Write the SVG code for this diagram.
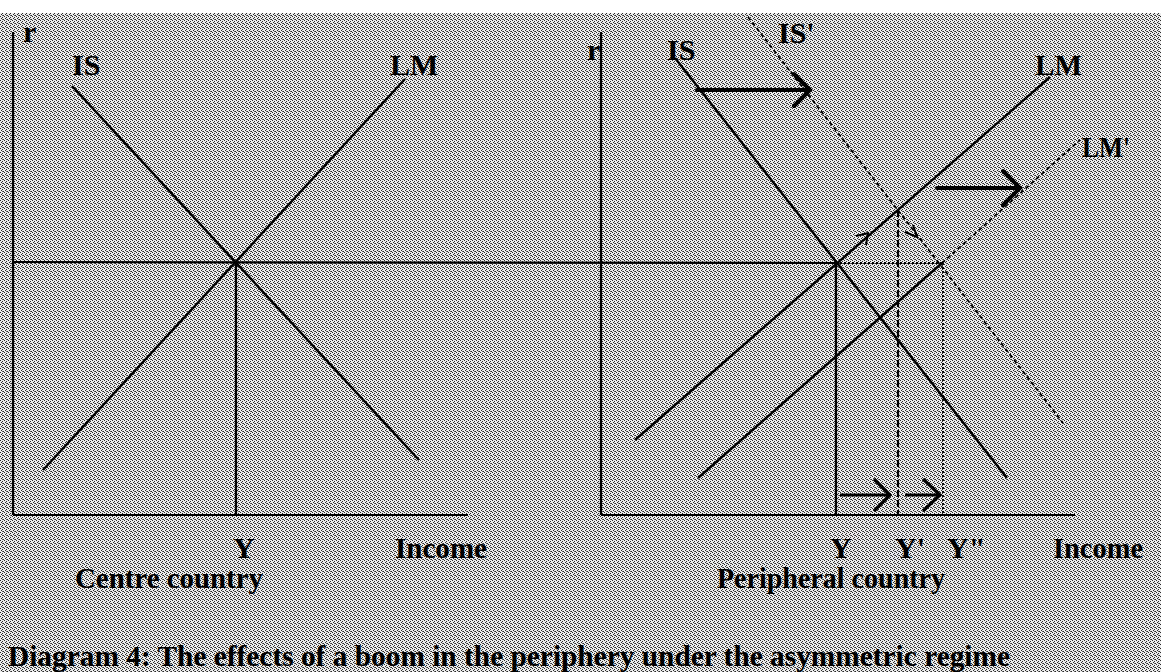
<svg xmlns="http://www.w3.org/2000/svg" width="1161" height="672" viewBox="0 0 1161 672">
<style>
text{font-family:"Liberation Serif","Times New Roman",serif;font-weight:bold;fill:#000;font-size:30px}
.ax{stroke:#000;stroke-width:2.2;fill:none}
.cv{stroke:#000;stroke-width:2.4;fill:none}
.ds{stroke:#000;stroke-width:1.8;fill:none;stroke-dasharray:4 3}
.dt{stroke:#000;stroke-width:1.8;fill:none;stroke-dasharray:2 2}
.dv{stroke:#000;stroke-width:2.2;fill:none;stroke-dasharray:7 3}
.ba{stroke:#000;stroke-width:4;fill:none;stroke-linecap:round;stroke-linejoin:miter}
.sa{stroke:#000;stroke-width:3.2;fill:none;stroke-linejoin:miter}
.ta{stroke:#000;stroke-width:2;fill:none}
</style>
<defs>
<pattern id="dith" patternUnits="userSpaceOnUse" width="4" height="4">
<rect width="4" height="4" fill="#ececec"/>
<rect x="0" y="0" width="1" height="1" fill="#2a2a2a"/>
<rect x="2" y="1" width="1" height="1" fill="#2a2a2a"/>
<rect x="1" y="2" width="1" height="1" fill="#2a2a2a"/>
<rect x="3" y="3" width="1" height="1" fill="#2a2a2a"/>
<rect x="2" y="3" width="1" height="1" fill="#666"/>
</pattern>
</defs>
<rect width="1161" height="672" fill="#fff"/>
<rect x="0" y="13" width="1161" height="659" fill="url(#dith)"/>

<g id="centre-panel">
<line class="ax" x1="13" y1="32" x2="13" y2="515"/>
<line class="ax" x1="13" y1="515" x2="468" y2="515"/>
<line class="cv" x1="72" y1="86" x2="419" y2="460"/>
<line class="cv" x1="43" y1="470" x2="405" y2="79"/>
<line class="ax" x1="236" y1="262" x2="236" y2="515"/>
<text x="23" y="42">r</text>
<text x="72" y="75">IS</text>
<text x="390" y="75">LM</text>
<text x="233" y="558">Y</text>
<text x="395" y="558" textLength="92" lengthAdjust="spacingAndGlyphs">Income</text>
<text x="75" y="588" textLength="188" lengthAdjust="spacingAndGlyphs">Centre country</text>
</g>

<g id="r-line">
<line class="ax" x1="13" y1="262" x2="836" y2="263"/>
<line class="dt" x1="836" y1="263" x2="943" y2="263"/>
</g>

<g id="periphery-panel">
<line class="ax" x1="601" y1="32" x2="601" y2="515"/>
<line class="ax" x1="601" y1="515" x2="1075" y2="515"/>
<text x="587" y="60">r</text>
<text x="667" y="60">IS</text>
<text x="778" y="43">IS'</text>
<text x="1035" y="75" textLength="47" lengthAdjust="spacingAndGlyphs">LM</text>
<text x="1082" y="157" textLength="48" lengthAdjust="spacingAndGlyphs">LM'</text>
<text x="830" y="558">Y</text>
<text x="895" y="558">Y'</text>
<text x="947" y="558">Y"</text>
<text x="1053" y="558" textLength="90" lengthAdjust="spacingAndGlyphs">Income</text>
<text x="717" y="588" textLength="228" lengthAdjust="spacingAndGlyphs">Peripheral country</text>
</g>

<g id="connectors">
<!-- IS, IS' -->
<line class="cv" x1="675" y1="58" x2="1007" y2="478"/>
<line class="ds" x1="748" y1="17" x2="1063" y2="423"/>
<!-- LM, LM' -->
<line class="cv" x1="635" y1="440" x2="1050" y2="77"/>
<line class="cv" x1="698" y1="478" x2="942" y2="263"/>
<line class="ds" x1="942" y1="263" x2="1080" y2="140"/>
<!-- verticals -->
<line class="ax" x1="836" y1="263" x2="836" y2="515"/>
<line class="dv" x1="898" y1="210" x2="898" y2="515"/>
<line class="dt" x1="943" y1="263" x2="943" y2="515"/>
<!-- big shift arrows -->
<path class="ba" d="M697,90 H810 M794,74 L810,90 L794,106"/>
<path class="ba" d="M937,188 H1020 M1003,171 L1020,188 L1003,205"/>
<!-- income arrows -->
<path class="sa" d="M840,495 H890 M874,479 L890,495 L874,511"/>
<path class="sa" d="M905,495 H940 M923,479 L940,495 L923,511"/>
<!-- small direction arrowheads -->
<path class="ta" d="M856,236 L868,233 L866,245"/>
<path class="ta" d="M905,232 L917,237 L913,225"/>
</g>

<text x="8" y="666" textLength="1002" lengthAdjust="spacingAndGlyphs">Diagram 4: The effects of a boom in the periphery under the asymmetric regime</text>
</svg>
